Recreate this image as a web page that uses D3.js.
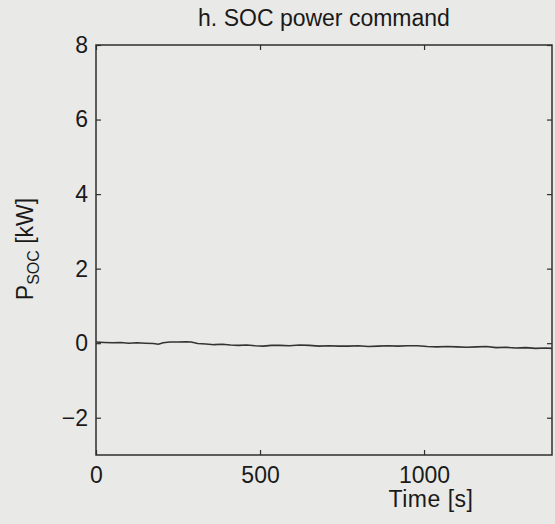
<!DOCTYPE html>
<html>
<head>
<meta charset="utf-8">
<script src="https://cdn.jsdelivr.net/npm/d3@7"></script>
<style>
  body { margin: 0; background: #e9e9e7; }
  svg { display: block; font-family: "Liberation Sans", Arial, sans-serif; }
</style>
</head>
<body>
<svg id="chart" width="555" height="524"></svg>
<script>
// data
const timeS = [0, 25, 50, 75, 100, 125, 150, 175, 190, 205, 225, 250, 275, 290, 310, 335, 360, 385, 410, 435,
    460, 485, 510, 535, 560, 590, 620, 650, 680, 710, 740, 770, 800, 830, 860, 890, 920, 950, 980, 1010,
    1040, 1070, 1100, 1130, 1160, 1190, 1220, 1250, 1280, 1310, 1340, 1370, 1390];
const pSoc = [0.03, 0.02, 0.01, 0.02, 0.0, 0.01, 0.0, -0.01, -0.03, 0.01, 0.03, 0.03, 0.04, 0.03, -0.01, -0.02, -0.04, -0.03, -0.05, -0.06,
    -0.05, -0.07, -0.08, -0.06, -0.06, -0.07, -0.05, -0.06, -0.08, -0.07, -0.08, -0.08, -0.07, -0.09, -0.08, -0.07, -0.08, -0.07, -0.07, -0.09,
    -0.10, -0.09, -0.10, -0.11, -0.10, -0.09, -0.12, -0.11, -0.13, -0.12, -0.14, -0.13, -0.14];
const xTicks = [0, 500, 1000];
const yTicks = [-2, 0, 2, 4, 6, 8];
const xDomain = [0, 1390];
const yDomain = [-3, 8];

const svg = d3.select("#chart");
const m = { left: 96, right: 552, top: 45, bottom: 455 };
const ink = "#2e2e2e";
const textInk = "#1a1a1a";

const x = d3.scaleLinear().domain(xDomain).range([m.left, m.right]);
const y = d3.scaleLinear().domain(yDomain).range([m.bottom, m.top]);

// box
svg.append("rect")
    .attr("x", m.left).attr("y", m.top)
    .attr("width", m.right - m.left).attr("height", m.bottom - m.top)
    .attr("fill", "none").attr("stroke", ink).attr("stroke-width", 1.5);

// inward ticks on all four sides, labels on left and bottom
svg.append("g")
    .attr("transform", `translate(0,${m.bottom})`)
    .call(d3.axisBottom(x).tickValues(xTicks).tickSize(-5).tickPadding(12).tickFormat(d3.format("d")))
    .call(g => g.select(".domain").remove())
    .call(g => g.selectAll("line").attr("stroke", ink).attr("stroke-width", 1.2))
    .call(g => g.selectAll("text").attr("fill", textInk).attr("font-size", 23).attr("font-family", "Liberation Sans, Arial, sans-serif"));

svg.append("g")
    .attr("transform", `translate(0,${m.top})`)
    .call(d3.axisTop(x).tickValues(xTicks).tickSize(-5).tickFormat(""))
    .call(g => g.select(".domain").remove())
    .call(g => g.selectAll("line").attr("stroke", ink).attr("stroke-width", 1.2));

svg.append("g")
    .attr("transform", `translate(${m.left},0)`)
    .call(d3.axisLeft(y).tickValues(yTicks).tickSize(-5).tickPadding(8)
        .tickFormat(d => d < 0 ? "\u2212" + Math.abs(d) : d))
    .call(g => g.select(".domain").remove())
    .call(g => g.selectAll("line").attr("stroke", ink).attr("stroke-width", 1.2))
    .call(g => g.selectAll("text").attr("fill", textInk).attr("font-size", 23).attr("font-family", "Liberation Sans, Arial, sans-serif"));

svg.append("g")
    .attr("transform", `translate(${m.right},0)`)
    .call(d3.axisRight(y).tickValues(yTicks).tickSize(-5).tickFormat(""))
    .call(g => g.select(".domain").remove())
    .call(g => g.selectAll("line").attr("stroke", ink).attr("stroke-width", 1.2));

// series
const line = d3.line()
    .x((d, i) => x(timeS[i]))
    .y(d => y(d));

svg.append("path")
    .datum(pSoc)
    .attr("d", line)
    .attr("fill", "none")
    .attr("stroke", "#333")
    .attr("stroke-width", 1.6);

// title
svg.append("text")
    .attr("x", (m.left + m.right) / 2).attr("y", 26)
    .attr("text-anchor", "middle")
    .attr("font-size", 23).attr("fill", textInk)
    .text("h. SOC power command");

// x label
svg.append("text")
    .attr("x", 431).attr("y", 507)
    .attr("text-anchor", "middle")
    .attr("font-size", 23).attr("fill", textInk)
    .attr("letter-spacing", 0.5)
    .text("Time [s]");

// y label with subscript
const yl = svg.append("text")
    .attr("transform", "translate(33,249) rotate(-90)")
    .attr("text-anchor", "middle")
    .attr("font-size", 23).attr("fill", textInk);
yl.append("tspan").text("P");
yl.append("tspan").attr("font-size", 16).attr("dy", 6).text("SOC");
yl.append("tspan").attr("dy", -6).text(" [kW]");
</script>
</body>
</html>
